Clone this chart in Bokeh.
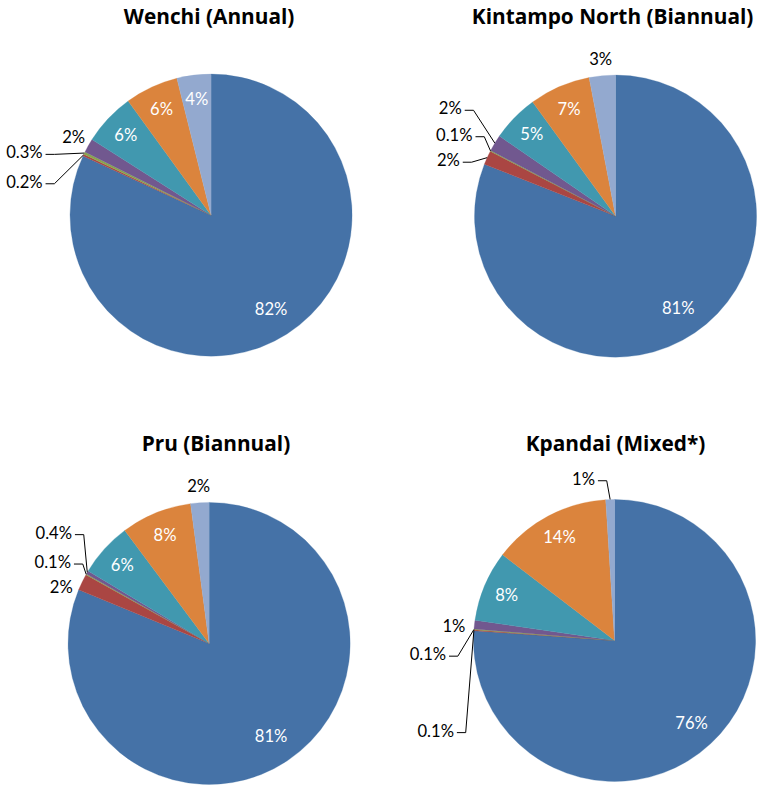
import math
from bokeh.plotting import figure
from bokeh.models import Range1d, ColumnDataSource
from bokeh.embed import file_html
from bokeh.resources import INLINE
from bokeh.core.properties import value

# ---------------- data (percent of total) ----------------
titles = ["Wenchi (Annual)", "Kintampo North (Biannual)", "Pru (Biannual)", "Kpandai (Mixed*)"]
categories = ["Category 1", "Category 2", "Category 3", "Category 4",
              "Category 5", "Category 6", "Category 7"]
wenchi = [81.9, 0.2, 0.3, 1.6, 6.0, 6.1, 3.9]
kintampo = [81.0, 1.6, 0.1, 1.9, 5.4, 7.0, 3.0]
pru = [81.2, 1.9, 0.1, 0.4, 6.2, 8.1, 2.1]
kpandai = [76.1, 0.1, 0.1, 1.0, 8.1, 13.6, 1.0]
colors = ["#4572A7", "#AA4643", "#89A54E", "#71588F", "#4198AF", "#DB843D", "#93A9CF"]

# ---------------- layout ----------------
W, H = 759, 787          # canvas in pixels
RW, RH = 775, 803        # layout units
FONT = "Lato"
TFONT = "Open Sans"

R = 144
centers = [(215, 219), (628, 220), (213, 656), (627, 653)]
title_pos = [(213, 16), (625, 16), (220, 452), (628, 452)]
placements = [
    [("in", 0.79), ("lead", -172, 34), ("lead", -172, 64), ("out", 1.12), ("in", 0.83), ("in", 0.83), ("in", 0.83)],
    [("in", 0.79), ("lead", -159, 57), ("lead", -146, 83), ("lead", -157, 110), ("in", 0.83), ("in", 0.83), ("out", 1.12)],
    [("in", 0.79), ("at", -151, 58), ("lead", -141, 83), ("lead", -140, 113), ("in", 0.83), ("in", 0.83), ("out", 1.12)],
    [("in", 0.80), ("lead", -164, -92), ("lead", -172, -14), ("at", -164, 15), ("in", 0.83), ("in", 0.83), ("lead", -20, 165)],
]
series = [wenchi, kintampo, pru, kpandai]


def fmt(v):
    return f"{v:.1f}%" if v < 1 else f"{round(v)}%"


p = figure(width=W, height=H, output_backend="svg", toolbar_location=None,
           x_range=Range1d(0, RW), y_range=Range1d(0, RH),
           x_axis_location=None, y_axis_location=None,
           min_border=0, min_border_left=0, min_border_right=0,
           min_border_top=0, min_border_bottom=0)
p.grid.visible = False
p.outline_line_color = None
p.background_fill_color = "white"
p.border_fill_color = "white"

LS = "16.6px"

for k, vals in enumerate(series):
    cxs, cys = centers[k]
    cx, cy = cxs, RH - cys
    total = sum(vals)
    starts, ends, mids = [], [], []
    cum = 0.0
    for v in vals:
        a0 = math.pi / 2 - 2 * math.pi * cum / total
        cum += v
        a1 = math.pi / 2 - 2 * math.pi * cum / total
        starts.append(a0)
        ends.append(a1)
        mids.append((a0 + a1) / 2)
    src = ColumnDataSource(dict(x=[cx] * len(vals), y=[cy] * len(vals),
                                start=starts, end=ends, color=colors,
                                cat=categories))
    p.wedge(x="x", y="y", radius=R, start_angle="end", end_angle="start",
            fill_color="color", line_color="color", line_width=0.3, source=src)

    in_x, in_y, in_t = [], [], []
    out_x, out_y, out_t = [], [], []
    ld_x, ld_y, ld_t = [], [], []
    lines_x, lines_y = [], []
    for i, v in enumerate(vals):
        spec = placements[k][i]
        m = mids[i]
        if spec[0] == "in":
            in_x.append(cx + spec[1] * R * math.cos(m))
            in_y.append(cy + spec[1] * R * math.sin(m))
            in_t.append(fmt(v))
        elif spec[0] == "out":
            out_x.append(cx + spec[1] * R * math.cos(m))
            out_y.append(cy + spec[1] * R * math.sin(m))
            out_t.append(fmt(v))
        elif spec[0] == "at":
            out_x.append(cx + spec[1])
            out_y.append(cy + spec[2])
            out_t.append(fmt(v))
        else:
            tx, ty = cx + spec[1], cy + spec[2]
            ld_x.append(tx)
            ld_y.append(ty)
            ld_t.append(fmt(v))
            ex, ey = cx + R * math.cos(m), cy + R * math.sin(m)
            lines_x.append([tx + 3, tx + 12, ex])
            lines_y.append([ty - 2, ty - 2, ey])
    p.text(x=in_x, y=in_y, text=in_t, text_color="white", text_align="center",
           text_baseline="middle", text_font=value(FONT), text_font_size=LS)
    p.text(x=out_x, y=out_y, text=out_t, text_color="black", text_align="center",
           text_baseline="middle", text_font=value(FONT), text_font_size=LS)
    p.text(x=ld_x, y=ld_y, text=ld_t, text_color="black", text_align="right",
           text_baseline="middle", text_font=value(FONT), text_font_size=LS)
    if lines_x:
        p.multi_line(xs=lines_x, ys=lines_y, line_color="black", line_width=1)
    tx, ty = title_pos[k]
    p.text(x=[tx], y=[RH - ty], text=[titles[k]], text_color="black",
           text_align="center", text_baseline="middle", text_font=value(TFONT),
           text_font_size="20.8px", text_font_style="bold")

open("out.html", "w").write(file_html(p, INLINE))
